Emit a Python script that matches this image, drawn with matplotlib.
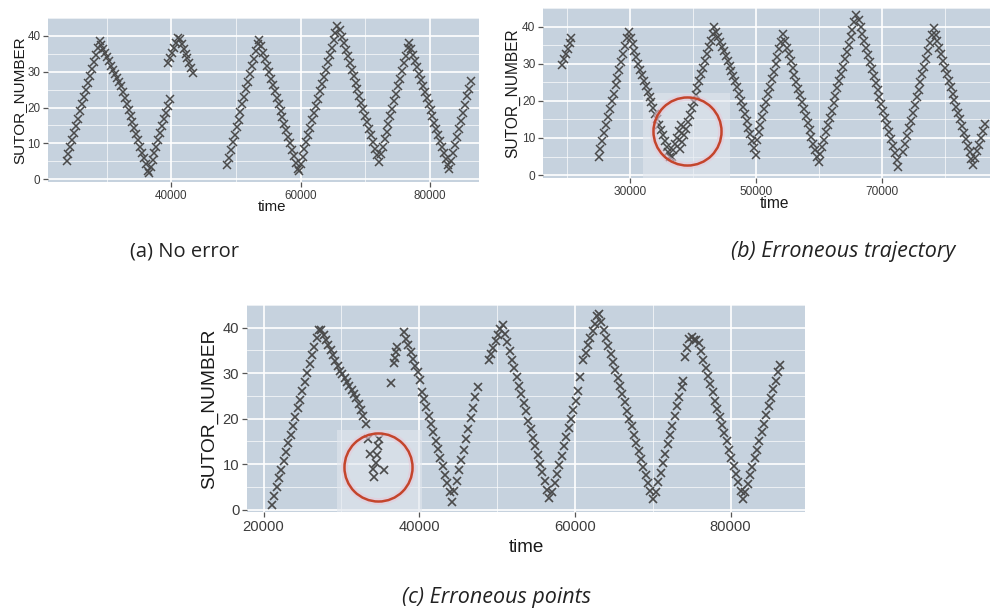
import matplotlib
matplotlib.use("Agg")
import matplotlib.pyplot as plt
from matplotlib.ticker import FixedLocator
from matplotlib.patches import Rectangle

# (a) No error
a_time = [
    23800, 24100, 24400, 24700, 25000, 25300, 25600, 25900, 26200, 26500, 26800, 27100, 27400, 27700, 28000,
    28300, 28600, 28900, 29200, 29500, 29800, 30100, 30400, 30700, 31000, 31300, 31600, 31900, 32200, 32500,
    32800, 33100, 33400, 33700, 34000, 34300, 34600, 34900, 35200, 35500, 35800, 36100, 36400, 36500, 36800,
    37100, 37400, 37700, 38000, 38300, 38600, 38900, 39200, 39500, 39800,
    39500, 39800, 40100, 40400, 40700, 41000, 41300, 41600, 41900, 42200, 42500, 42800, 43100, 43400,
    48600, 48900, 49200, 49500, 49800, 50100, 50400, 50700, 51000, 51300, 51600, 51900, 52200, 52500, 52800,
    53100, 53400, 53600, 53900, 54200, 54500, 54800, 55100, 55400, 55700, 56000, 56300, 56600, 56900, 57200,
    57500, 57800, 58100, 58400, 58700, 59000, 59300, 59600, 59700, 60000, 60300, 60600, 60900, 61200, 61500,
    61800, 62100, 62400, 62700, 63000, 63300, 63600, 63900, 64200, 64500, 64800, 65100, 65400, 65700, 66100,
    66400, 66700, 67000, 67300, 67600, 67900, 68200, 68500, 68800, 69100, 69400, 69700, 70000, 70300, 70600,
    70900, 71200, 71500, 71800, 72100, 72400, 72700, 73000, 73300, 73600, 73900, 74200, 74500, 74800, 75100,
    75400, 75700, 76000, 76300, 76600, 76800, 77100, 77400, 77700, 78000, 78300, 78600, 78900, 79200, 79500,
    79800, 80100, 80400, 80700, 81000, 81300, 81600, 81900, 82200, 82500, 82800, 83000, 83300, 83600, 83900,
    84200, 84500, 84800, 85100, 85400, 85700, 86000, 86300,
]
a_sutor = [
    5.0, 7.0, 9.0, 10.9, 12.9, 14.9, 16.9, 18.9, 20.9, 22.8, 24.8, 26.8, 28.8, 30.8, 32.7,
    34.7, 36.7, 38.7, 37.5, 36.3, 35.2, 34.0, 32.9, 31.7, 30.5, 29.4, 28.2, 27.0, 26.0, 24.3,
    22.6, 20.9, 19.2, 17.6, 15.9, 14.2, 12.5, 10.8, 9.1, 7.4, 5.8, 4.1, 2.4, 1.6, 3.5,
    5.4, 7.2, 9.1, 11.0, 12.9, 14.8, 16.7, 18.6, 20.5, 22.4,
    32.5, 33.9, 35.2, 36.6, 38.0, 39.4, 39.0, 37.6, 36.3, 35.0, 33.7, 32.3, 31.0, 29.7,
    3.9, 6.0, 8.1, 10.3, 12.4, 14.5, 16.6, 18.7, 20.9, 23.0, 25.1, 27.2, 29.4, 31.5, 33.6,
    35.7, 37.8, 38.9, 37.1, 35.3, 33.5, 31.7, 29.9, 28.1, 26.3, 24.5, 22.7, 20.9, 19.1, 17.3,
    15.5, 13.7, 11.9, 10.0, 8.2, 6.4, 4.6, 2.8, 2.2, 4.2, 6.3, 8.3, 10.3, 12.4, 14.4,
    16.4, 18.5, 20.5, 22.5, 24.5, 26.6, 28.6, 30.6, 32.7, 34.7, 36.7, 38.8, 40.8, 42.8, 41.7,
    39.8, 38.0, 36.1, 34.3, 32.5, 30.6, 28.8, 26.9, 25.1, 23.2, 21.4, 19.6, 17.7, 15.9, 14.0,
    12.2, 10.3, 8.5, 6.7, 4.8, 6.9, 9.0, 11.2, 13.3, 15.4, 17.5, 19.6, 21.7, 23.9, 26.0,
    28.1, 30.2, 32.3, 34.5, 36.6, 38.0, 36.3, 34.6, 32.9, 31.2, 29.5, 27.8, 26.1, 24.4, 22.7,
    20.9, 19.2, 17.5, 15.8, 14.1, 12.4, 10.7, 9.0, 7.3, 5.6, 3.9, 2.7, 5.0, 7.2, 9.5,
    11.8, 14.0, 16.3, 18.5, 20.8, 23.1, 25.3, 27.4,
]

# (b) Erroneous trajectory
b_time = [
    19200, 19500, 19800, 20100, 20400, 20700,
    25000, 25300, 25600, 25900, 26200, 26500, 26800, 27100, 27400, 27700, 28000, 28300, 28600, 28900, 29200,
    29500, 29800, 30100, 30400, 30700, 31000, 31300, 31600, 31900, 32200, 32500, 32800, 33100, 33400, 33700,
    34000, 34300, 34600, 34900, 35200, 35500, 35800, 36100, 36400,
    36600, 36900, 37200, 37500, 37800, 38100,
    38000, 38300, 38600, 38900, 39200, 39500, 39800, 40100, 40400, 40700, 41000, 41300, 41600, 41900, 42200,
    42500, 42800, 43100, 43400, 43700, 44000, 44300, 44600, 44900, 45200, 45500, 45800, 46100, 46400, 46700,
    47000, 47300, 47600, 47900, 48200, 48500, 48800, 49100, 49400, 49700, 50000,
    50100, 50400, 50700, 51000, 51300, 51600, 51900, 52200, 52500, 52800, 53100, 53400, 53700, 54000, 54300,
    54600, 54900, 55200, 55500, 55800, 56100, 56400, 56700, 57000, 57300, 57600, 57900, 58200, 58500, 58800,
    59100, 59400, 59700, 59950, 60200, 60500, 60800, 61100, 61400, 61700, 62000, 62300, 62600, 62900, 63200,
    63500, 63800, 64100, 64400, 64700, 65000, 65300, 65600, 65900, 66300, 66600, 66900, 67200, 67500, 67800,
    68100, 68400, 68700, 69000, 69300, 69600, 69900, 70200, 70500, 70800, 71100, 71400, 71700, 72000, 72300,
    72600,
    73400, 73700, 74000, 74300, 74600, 74900, 75200, 75500, 75800, 76100, 76400, 76700, 77000, 77300, 77600,
    77900, 78200, 78500, 78800, 79100, 79400, 79700, 80000, 80300, 80600, 80900, 81200, 81500, 81800, 82100,
    82400, 82700, 83000, 83300, 83600, 83900, 84200, 84500, 84800, 85100, 85400, 85700, 86000, 86300,
]
b_sutor = [
    29.7, 31.2, 32.6, 34.1, 35.6, 37.1,
    5.0, 7.1, 9.3, 11.4, 13.5, 15.6, 17.8, 19.9, 22.0, 24.2, 26.3, 28.4, 30.6, 32.7, 34.8,
    37.0, 38.7, 37.0, 35.3, 33.6, 31.9, 30.1, 28.4, 26.9, 25.5, 24.0, 22.5, 21.0, 19.6, 18.1,
    16.6, 15.1, 13.6, 12.2, 10.7, 9.2, 7.7, 6.3, 4.8,
    5.0, 6.7, 8.4, 10.1, 11.8, 13.4,
    7.0, 8.8, 10.7, 12.5, 14.3, 16.2, 18.0, 19.8, 21.7, 23.5, 25.3, 27.2, 29.0, 30.8, 32.7,
    34.5, 36.3, 38.2, 40.0, 38.7, 37.4, 36.0, 34.7, 33.4, 32.1, 30.8, 29.5, 28.1, 26.8, 25.5,
    23.7, 21.9, 20.1, 18.3, 16.4, 14.6, 12.8, 11.0, 9.1, 7.3, 5.5,
    9.5, 11.5, 13.6, 15.6, 17.7, 19.7, 21.8, 23.8, 25.8, 27.9, 29.9, 32.0, 34.0, 36.0, 38.1,
    36.3, 34.4, 32.6, 30.7, 28.9, 27.0, 25.2, 23.3, 21.5, 19.6, 17.8, 15.9, 14.1, 12.2, 10.4,
    8.5, 6.7, 4.8, 3.6, 5.6, 7.5, 9.5, 11.5, 13.5, 15.5, 17.4, 19.4, 21.4, 23.4, 25.3,
    27.3, 29.3, 31.3, 33.3, 35.2, 37.2, 39.2, 41.2, 43.2, 41.8, 39.9, 38.0, 36.2, 34.3, 32.4,
    30.5, 28.6, 26.7, 24.8, 22.9, 21.0, 19.1, 17.2, 15.4, 13.5, 11.6, 9.7, 7.8, 5.9, 4.0,
    2.2,
    6.3, 8.4, 10.5, 12.6, 14.7, 16.8, 18.9, 21.0, 23.0, 25.1, 27.2, 29.3, 31.4, 33.5, 35.6,
    37.7, 39.6, 37.8, 36.1, 34.3, 32.6, 30.8, 29.0, 27.3, 25.5, 23.8, 22.0, 20.2, 18.5, 16.7,
    15.0, 13.2, 11.4, 9.7, 7.9, 6.2, 4.4, 2.7, 4.5, 6.4, 8.2, 10.0, 11.9, 13.7,
]

# (c) Erroneous points
c_time = [
    21100, 21400, 21700, 22000, 22300, 22600, 22900, 23200, 23500, 23800, 24100, 24400, 24700, 25000, 25300,
    25600, 25900, 26200, 26500, 26800, 27100, 27400, 27700, 28000, 28300, 28600, 28900, 29200, 29500, 29800,
    30100, 30400, 30700, 31000, 31300, 31600, 31900, 32200, 32500, 32800, 33100, 33400, 33700, 34000, 34200,
    34400, 34550, 34700, 34800, 35500,
    36400, 36700, 36850, 37000, 37150,
    38000, 38300, 38600, 38900, 39200, 39500, 39800, 40100, 40350, 40600, 40900, 41200, 41500, 41800, 42100,
    42400, 42700, 43000, 43300, 43600, 43900, 44200, 44500, 44800, 45100, 45400, 45700, 46000, 46300, 46600,
    46900, 47200, 47500,
    48900, 49200, 49500, 49800, 50100, 50400, 50700, 51000, 51300, 51600, 51900, 52200, 52500, 52800, 53100,
    53400, 53700, 54000, 54300, 54600, 54900, 55200, 55500, 55800, 56100, 56400, 56700, 57100, 57400, 57700,
    58000, 58300, 58600, 58900, 59200, 59500, 59800, 60100, 60400,
    60660,
    61100, 61400, 61700, 62000, 62300, 62600, 62900, 63100, 63400, 63700, 64000, 64300, 64600, 64900, 65200,
    65500, 65800, 66100, 66400, 66700, 67000, 67300, 67600, 67900, 68200, 68500, 68800, 69100, 69400, 69700,
    70000, 70400, 70700, 71000, 71300, 71600, 71900, 72200, 72500, 72800, 73100, 73400, 73700, 73900,
    74100, 74400, 74700, 75000, 75300, 75600, 75900, 76200, 76500, 76800, 77100, 77400, 77700, 78000, 78300,
    78600, 78900, 79200, 79500, 79800, 80100, 80400, 80700, 81000, 81300, 81600, 81900, 82200, 82500, 82800,
    83100, 83400, 83700, 84000, 84300, 84600, 84900, 85200, 85500, 85800, 86100, 86400,
]
c_sutor = [
    1.1, 3.0, 5.0, 6.9, 8.8, 10.8, 12.7, 14.6, 16.5, 18.5, 20.4, 22.3, 24.2, 26.2, 28.1,
    30.0, 32.0, 33.9, 35.8, 37.7, 39.6, 39.5, 38.5, 37.4, 36.2, 35.1, 34.0, 32.8, 31.7, 30.6,
    29.8, 29.0, 28.1, 27.3, 26.4, 25.5, 24.5, 23.3, 21.9, 20.5, 18.8, 15.5, 12.3, 9.0, 7.3,
    10.3, 12.0, 14.0, 15.5, 8.8,
    27.8, 32.3, 33.4, 34.6, 35.8,
    39.1, 37.6, 36.1, 34.6, 33.2, 31.7, 30.2, 28.6, 25.9, 24.4, 22.5, 20.7, 18.8, 17.0, 15.1,
    13.3, 11.4, 9.6, 7.7, 5.9, 4.0, 1.8, 4.1, 6.4, 8.7, 11.0, 13.2, 15.5, 17.8, 20.1,
    22.4, 24.7, 27.0,
    32.9, 34.2, 35.6, 37.0, 38.3, 39.7, 40.6, 38.7, 36.8, 34.9, 33.0, 31.1, 29.2, 27.3, 25.4,
    23.5, 21.6, 19.6, 17.7, 15.8, 13.9, 12.0, 10.1, 8.2, 6.3, 4.4, 2.5, 3.8, 5.8, 7.8,
    9.9, 11.9, 13.9, 15.9, 17.9, 19.9, 21.9, 23.9, 26.0,
    29.2,
    32.9, 34.5, 36.1, 37.7, 39.3, 40.9, 42.5, 43.1, 41.3, 39.6, 37.8, 36.0, 34.2, 32.5, 30.7,
    28.9, 27.1, 25.4, 23.6, 21.8, 20.0, 18.3, 16.5, 14.7, 12.9, 11.2, 9.4, 7.6, 5.8, 4.1,
    2.3, 3.9, 6.0, 8.1, 10.2, 12.3, 14.4, 16.4, 18.5, 20.6, 22.7, 24.8, 26.9, 28.3,
    33.6, 35.5, 37.5, 38.0, 37.3, 37.2, 36.6, 34.8, 33.0, 31.2, 29.4, 27.6, 25.8, 24.0, 22.2,
    20.4, 18.6, 16.8, 15.0, 13.2, 11.4, 9.6, 7.8, 6.0, 4.2, 2.4, 3.8, 5.7, 7.6, 9.5,
    11.4, 13.2, 15.1, 17.0, 18.9, 20.8, 22.7, 24.6, 26.5, 28.4, 30.3, 31.8,
]

y_ticks = [0, 10, 20, 30, 40]
y_minor = [5, 15, 25, 35, 45]

plt.rcParams["font.family"] = ["Liberation Sans", "DejaVu Sans"]

fig = plt.figure(figsize=(9.92, 6.15), dpi=100)
W, H = 992, 615


def add_axes_px(left, top, right, bottom):
    return fig.add_axes([left / W, 1 - bottom / H, (right - left) / W, (bottom - top) / H])


def style_panel(ax, xlim, ylim, xticks, xminor, tick_fs, label_fs, label_x):
    ax.set_facecolor("#c6d2de")
    ax.set_xlim(*xlim)
    ax.set_ylim(*ylim)
    ax.xaxis.set_major_locator(FixedLocator(xticks))
    ax.xaxis.set_minor_locator(FixedLocator(xminor))
    ax.yaxis.set_major_locator(FixedLocator(y_ticks))
    ax.yaxis.set_minor_locator(FixedLocator(y_minor))
    ax.set_xticklabels([str(x) for x in xticks])
    ax.set_axisbelow(True)
    ax.grid(which="major", color="white", lw=1.2)
    ax.grid(which="minor", color="white", lw=0.55, alpha=0.85)
    for s in ax.spines.values():
        s.set_visible(False)
    ax.tick_params(which="major", length=3.5, width=0.9, color="#555555",
                   labelcolor="#3c3c3c", labelsize=tick_fs, pad=2)
    ax.tick_params(which="minor", length=0)
    ax.text(label_x, 0.5, "SUTOR_NUMBER", rotation=90, ha="center", va="center",
            transform=ax.transAxes, fontsize=label_fs, color="#1a1a1a")


def add_circle(ax, t, v, size):
    ax.plot([t], [v], marker="o", ms=size, mfc="none", mec="#e6c9d8", mew=5, alpha=0.6, zorder=4)
    ax.plot([t], [v], marker="o", ms=size, mfc="none", mec="#c4452c", mew=1.8, zorder=5)


mark = dict(ls="none", marker="x", color="#4a4a4a", zorder=3)

# panel (a)
ax_a = add_axes_px(48, 18, 479, 182)
style_panel(ax_a, (20930, 87600), (-0.8, 45.0), [40000, 60000, 80000],
            [30000, 50000, 70000], 8.4, 11, -0.066)
ax_a.plot(a_time, a_sutor, ms=5.4, mew=1.1, **mark)

# panel (b)
ax_b = add_axes_px(543, 8, 990, 178)
style_panel(ax_b, (16190, 87140), (-0.8, 45.1), [30000, 50000, 70000],
            [20000, 40000, 60000, 80000], 8.6, 11.2, -0.068)
ax_b.add_patch(Rectangle((32100, -0.8), 13800, 23.0, facecolor="#e2e7ee", edgecolor="none",
                         alpha=0.6, zorder=2))
ax_b.plot(b_time, b_sutor, ms=5.4, mew=1.1, **mark)
add_circle(ax_b, 39050, 11.9, 49)

# panel (c)
ax_c = add_axes_px(247, 305, 805, 512)
style_panel(ax_c, (17870, 89560), (-0.5, 45.0), [20000, 40000, 60000, 80000],
            [30000, 50000, 70000], 10.6, 13.8, -0.067)
ax_c.add_patch(Rectangle((29400, -0.5), 10900, 18.0, facecolor="#e2e7ee", edgecolor="none",
                         alpha=0.6, zorder=2))
ax_c.plot(c_time, c_sutor, ms=6.4, mew=1.2, **mark)
add_circle(ax_c, 34750, 9.3, 49)

# axis titles
fig.text(272 / W, 1 - 207 / H, "time", ha="center", va="center", fontsize=10.8, color="#1a1a1a")
fig.text(774 / W, 1 - 203 / H, "time", ha="center", va="center", fontsize=11.2, color="#1a1a1a")
fig.text(526 / W, 1 - 547 / H, "time", ha="center", va="center", fontsize=13.6, color="#1a1a1a")

# captions
cap = dict(ha="center", va="center", family="Open Sans", color="#222222")
fig.text(184 / W, 1 - 252 / H, "(a) No error", fontsize=14.5, **cap)
fig.text(843 / W, 1 - 252 / H, "(b) Erroneous trajectory", style="italic", fontsize=15.5, **cap)
fig.text(497 / W, 1 - 598 / H, "(c) Erroneous points", style="italic", fontsize=15.5, **cap)

fig.savefig("out.png", dpi=100)
